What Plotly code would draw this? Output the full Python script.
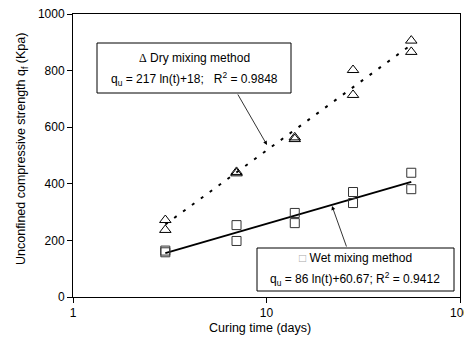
import plotly.graph_objects as go
import numpy as np

days = [3, 3, 7, 7, 14, 14, 28, 28, 56, 56]
dry_strength = [272, 237, 442, 437, 564, 558, 802, 714, 906, 866]
wet_strength = [164, 158, 254, 198, 297, 261, 371, 332, 439, 381]

dry_fit = [217, 18]      # qu = a ln(t) + b
wet_fit = [86, 60.67]
fit_days = [3, 7, 14, 28, 56]

x_ticks = [1, 10, 100]
y_ticks = [0, 200, 400, 600, 800, 1000]

dry_line = [dry_fit[0] * np.log(t) + dry_fit[1] for t in fit_days]
wet_line = [wet_fit[0] * np.log(t) + wet_fit[1] for t in fit_days]

FONT = "Liberation Sans, Arial, sans-serif"

fig = go.Figure()
fig.add_trace(go.Scatter(x=fit_days, y=dry_line, mode="lines",
                         line=dict(color="black", width=2, dash="3px,8px"),
                         showlegend=False, hoverinfo="skip"))
fig.add_trace(go.Scatter(x=fit_days, y=wet_line, mode="lines",
                         line=dict(color="black", width=2),
                         showlegend=False, hoverinfo="skip"))
fig.add_trace(go.Scatter(x=days, y=dry_strength, mode="markers",
                         marker=dict(symbol="triangle-up-open", size=10,
                                     color="black", line=dict(width=1, color="black")),
                         showlegend=False))
fig.add_trace(go.Scatter(x=days, y=wet_strength, mode="markers",
                         marker=dict(symbol="square-open", size=9,
                                     color="#333333", line=dict(width=1, color="#333333")),
                         showlegend=False))

# The page has an 8px body margin; keep the whole page inside the 472x343 window
# so that no scrollbar appears. Plot area lands at x 73-460, y 14-297.
PAGE = 8
W, H = 472 - 2 * PAGE + PAGE, 343 - 2 * PAGE   # 464 x 327
PL, PR, PT, PB = 73, 460, 14, 297               # plot area in window pixels
pw, ph = PR - PL, PB - PT
L = PL - PAGE
T = PT - PAGE
R = (PAGE + W) - PR
B = H - T - ph

def px(x):
    return (x - PL) / pw

def py(y):
    return (PB - y) / ph

shapes = [
    dict(type="rect", xref="paper", yref="paper", x0=px(97), x1=px(291), y0=py(93), y1=py(43),
         line=dict(color="black", width=1), fillcolor="white", layer="above"),
    dict(type="rect", xref="paper", yref="paper", x0=px(257), x1=px(454), y0=py(291), y1=py(248),
         line=dict(color="black", width=1), fillcolor="white", layer="above"),
]

def label(x, y, text, size=12, angle=0):
    return dict(xref="paper", yref="paper", x=px(x), y=py(y), xanchor="center",
                yanchor="middle", showarrow=False, textangle=angle,
                font=dict(family=FONT, size=size, color="black"), text=text)

annotations = [
    label(194, 58, "<span style='font-family:Liberation Serif'>Δ</span> Dry mixing method"),
    label(194, 79, "q<sub>u</sub> = 217 ln(t)+18;   R<sup>2</sup> = 0.9848"),
    label(355, 258, "<span style='color:#aaaaaa'>□</span> Wet mixing method"),
    label(355, 279, "q<sub>u</sub> = 86 ln(t)+60.67; R<sup>2</sup> = 0.9412"),
    label(260, 328, "Curing time (days)", size=12.5),
    label(22, 149, "Unconfined compressive strength q<sub>f</sub> (Kpa)", size=12.5, angle=-90),
    dict(xref="paper", yref="paper", x=px(267), y=py(145), ax=-30, ay=-52, text="",
         showarrow=True, arrowhead=2, arrowsize=1, arrowwidth=0.8, arrowcolor="black"),
    dict(xref="paper", yref="paper", x=px(332), y=py(206), ax=15, ay=42, text="",
         showarrow=True, arrowhead=2, arrowsize=1, arrowwidth=0.8, arrowcolor="black"),
]

fig.update_layout(
    width=W, height=H,
    margin=dict(l=L, r=R, t=T, b=B),
    paper_bgcolor="white", plot_bgcolor="white",
    font=dict(family=FONT, size=12, color="black"),
    shapes=shapes, annotations=annotations,
    xaxis=dict(type="log", range=[0, 2], tickvals=x_ticks, ticktext=[str(v) for v in x_ticks],
               showgrid=False, zeroline=False, showline=True, linecolor="black", linewidth=1,
               mirror=True, ticks="outside", ticklen=5, tickcolor="black", automargin=False,
               ticklabeloverflow="allow", tickfont=dict(size=12)),
    yaxis=dict(range=[0, 1000], tickvals=y_ticks, showgrid=False, zeroline=False,
               showline=True, linecolor="black", linewidth=1, mirror=True, automargin=False,
               ticks="outside", ticklen=5, tickcolor="black", ticklabeloverflow="allow",
               tickfont=dict(size=12)),
)

fig.write_html("out.html")
